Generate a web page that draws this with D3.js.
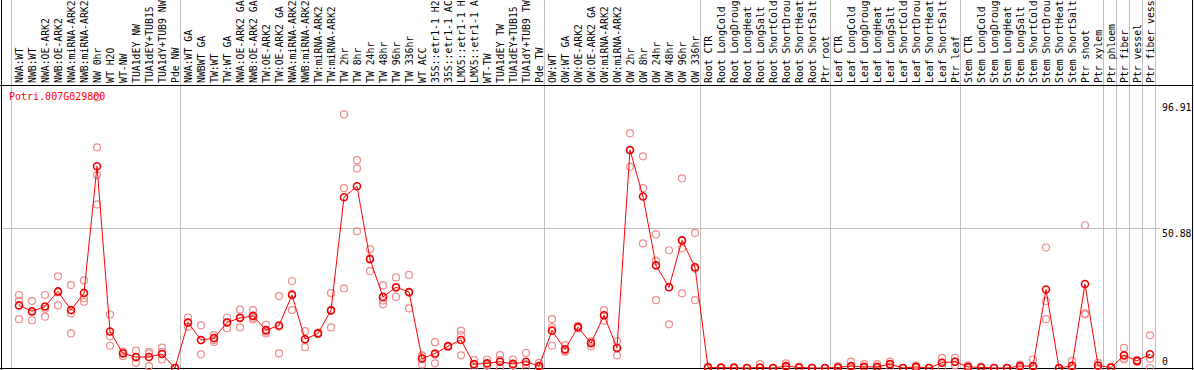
<!DOCTYPE html>
<html>
<head>
<meta charset="utf-8">
<script src="https://cdnjs.cloudflare.com/ajax/libs/d3/7.8.5/d3.min.js"></script>
<style>
  body { margin: 0; background: #fff; }
  text { font-family: "DejaVu Sans Mono", monospace; font-size: 10px; }
</style>
</head>
<body>
<div id="chart"></div>
<script>
var gene = "Potri.007G029800"

var samples = [
  "NWA:WT", "NWB:WT", "NWA:OE-ARK2", "NWB:OE-ARK2", "NWA:miRNA-ARK2", "NWB:miRNA-ARK2",
  "NW 0hr", "WT H2O", "WT-NW", "TUA1dEY NW", "TUA1dEY+TUB15 NW", "TUA1dY+TUB9 NW", "Pde NW",
  "NWA:WT GA", "NWBWT GA", "TW:WT", "TW:WT GA", "NWA:OE-ARK2 GA", "NWB:OE-ARK2 GA",
  "TW:OE-ARK2", "TW:OE-ARK2 GA", "NWA:miRNA-ARK2 GA", "NWB:miRNA-ARK2 GA", "TW:miRNA-ARK2",
  "TW:miRNA-ARK2 GA", "TW 2hr", "TW 8hr", "TW 24hr", "TW 48hr", "TW 96hr", "TW 336hr",
  "WT ACC", "35S::etr1-1 H2O", "35S::etr1-1 ACC", "LMX5::etr1-1 H2O", "LMX5::etr1-1 ACC",
  "WT-TW", "TUA1dEY TW", "TUA1dEY+TUB15 TW", "TUA1dY+TUB9 TW", "Pde TW",
  "OW:WT", "OW:WT GA", "OW:OE-ARK2", "OW:OE-ARK2 GA", "OW:miRNA-ARK2", "OW:miRNA-ARK2 GA",
  "OW 2hr", "OW 8hr", "OW 24hr", "OW 48hr", "OW 96hr", "OW 336hr",
  "Root CTR", "Root LongCold", "Root LongDrought", "Root LongHeat", "Root LongSalt",
  "Root ShortCold", "Root ShortDrought", "Root ShortHeat", "Root ShortSalt", "Ptr root",
  "Leaf CTR", "Leaf LongCold", "Leaf LongDrought", "Leaf LongHeat", "Leaf LongSalt",
  "Leaf ShortCold", "Leaf ShortDrought", "Leaf ShortHeat", "Leaf ShortSalt", "Ptr leaf",
  "Stem CTR", "Stem LongCold", "Stem LongDrought", "Stem LongHeat", "Stem LongSalt",
  "Stem ShortCold", "Stem ShortDrought", "Stem ShortHeat", "Stem ShortSalt", "Ptr shoot",
  "Ptr xylem", "Ptr phloem", "Ptr fiber", "Ptr vessel", "Ptr fiber vessel"
]

// mean expression per sample
var means = [
  22.8, 20.7, 22.4, 27.9, 21.1, 27.3, 73.5, 13.3, 5.3, 4.0, 4.0, 5.1, 0,
  16.6, 10.2, 10.9, 16.6, 18.2, 19.0, 13.8, 15.5, 26.6, 10.5, 12.6, 21.0, 62.2, 66.2,
  39.6, 25.9, 29.4, 27.7, 3.4, 5.3, 7.9, 10.2, 1.4, 1.7, 2.3, 1.5, 2.3, 0.7,
  13.6, 6.8, 14.9, 9.0, 19.2, 7.3, 79.4, 62.5, 37.4, 29.4, 46.5, 36.7,
  0.2, 0.1, 0.1, 0, 0.2, 0, 0.7, 0.2, 0, 0,
  0.2, 0.7, 0.4, 0.4, 1.4, 0, 0.4, 0, 1.9, 2.3,
  0.4, 0.2, 0, 0, 0.7, 0.7, 28.6, 0, 0.8, 30.6, 0.9,
  0.2, 4.6, 2.6, 5.0
]

// individual replicates per sample
var replicates = [
  [26.6, 24.5, 17.8], [24.4, 20.3, 17.4], [26.6, 21.6, 18.7], [33.4, 27.5, 22.8],
  [30.2, 19.9, 12.6], [31.9, 25.4, 24.1], [98.6, 80.4, 70.3, 59.6], [19.5, 11.6, 8.1],
  [6.0, 5.6, 4.3], [6.3, 3.8, 1.9], [5.9, 5.3, 0.7], [7.4, 5.9, 3.1], [0, 0, 0],
  [18.4, 16.5, 15.0], [15.5, 10.1, 5.0], [12.0, 10.2, 9.5], [18.3, 16.6, 14.5],
  [21.3, 18.5, 14.8], [21.1, 18.3, 17.7], [15.7, 13.2, 12.6], [26.2, 15.0, 5.3],
  [31.7, 27.0, 21.1], [13.4, 10.5, 7.6], [12.9, 12.6, 12.3], [27.3, 21.0, 14.8],
  [92.4, 65.5, 29.0], [75.7, 72.7, 49.8], [43.3, 40.0, 35.3], [30.1, 24.6, 23.2],
  [33.0, 29.2, 25.9], [33.9, 27.4, 21.7], [4.6, 4.2, 1.3], [9.4, 4.9, 1.7],
  [8.2, 7.9, 7.6], [13.6, 12.0, 4.6], [2.9, 1.2, 0], [3.1, 1.2, 0.8], [4.7, 2.9, 0],
  [3.1, 1.2, 0.8], [5.5, 1.4, 0], [1.9, 0.2, 0],
  [17.8, 14.8, 8.1], [8.3, 6.2, 5.9], [15.4, 14.9, 14.4], [9.7, 9.4, 7.9],
  [21.1, 19.2, 17.2], [9.8, 7.4, 4.6], [85.5, 79.3, 73.3], [77.1, 65.5, 45.4],
  [48.7, 39.0, 24.7], [42.9, 29.4, 15.9], [69.1, 43.6, 27.2], [49.2, 36.2, 24.7],
  [0.5, 0.1, 0], [0.3, 0, 0], [0.3, 0, 0], [0, 0, 0], [1.4, 0, 0],
  [0, 0, 0], [1.7, 0.3, 0], [0.5, 0.1, 0], [0, 0, 0], [0, 0, 0],
  [0.7, 0, 0], [2.3, 0, 0], [1.4, 0, 0], [1.4, 0, 0], [2.3, 1.4, 0.5],
  [0, 0, 0], [1.0, 0.2, 0], [0, 0, 0], [3.7, 1.9, 0.1], [3.7, 2.3, 1.0],
  [1.0, 0.2, 0], [0.5, 0, 0], [0, 0, 0], [0, 0, 0], [1.2, 0.8, 0],
  [3.1, 0, 0], [43.9, 24.4, 17.8], [0, 0, 0], [2.6, 0, 0], [52.0, 19.9, 19.5], [1.9, 0.8, 0],
  [0.5, 0, 0], [7.3, 3.4, 3.1], [3.0, 2.6, 2.2], [11.9, 3.4, 0]
]

// sample index where each tissue group starts (last = end)
var groupBreaks = [0, 13, 41, 53, 63, 73, 84, 85, 86, 87, 88]
var yTicks = [96.91, 50.88, 0]

var width = 1194
var height = 370

var svg = d3.select("#chart")
  .append("svg")
    .attr("width", width)
    .attr("height", height)

// one band per sample
var x = d3.scaleBand()
  .domain(d3.range(samples.length))
  .range([11, 11 + samples.length * 13])

var y = d3.scaleLinear()
  .domain([0, 96.91])
  .range([368, 102])

var cx = function(i) { return x(i) + 8 }

// group separators
svg.selectAll("line.sep")
  .data(groupBreaks)
  .enter()
  .append("line")
    .attr("x1", function(d) { return d * 13 + 11.5 })
    .attr("x2", function(d) { return d * 13 + 11.5 })
    .attr("y1", 0)
    .attr("y2", 368)
    .attr("stroke", "#c0c0c0")

// middle grid line
svg.append("line")
  .attr("x1", 1)
  .attr("x2", 1160)
  .attr("y1", Math.round(y(50.88)) + 0.5)
  .attr("y2", Math.round(y(50.88)) + 0.5)
  .attr("stroke", "#c0c0c0")

// frame
svg.append("line").attr("x1", 0).attr("x2", width).attr("y1", 85.5).attr("y2", 85.5).attr("stroke", "#000")
svg.append("line").attr("x1", 1.5).attr("x2", 1.5).attr("y1", 0).attr("y2", height).attr("stroke", "#000")
svg.append("line").attr("x1", 1192.5).attr("x2", 1192.5).attr("y1", 0).attr("y2", height).attr("stroke", "#000")
svg.append("line").attr("x1", 0).attr("x2", width).attr("y1", 368.5).attr("y2", 368.5).attr("stroke", "#000")

// sample labels, vertical; the header only has room for 14 characters
svg.selectAll("text.sample")
  .data(samples)
  .enter()
  .append("text")
    .attr("transform", function(d, i) { return "translate(" + (cx(i) + 3.5) + ",83) rotate(-90)" })
    .attr("fill", "#000")
    .style("font-size", "9.8px")
    .text(function(d) { return d.slice(0, 14) })

// value labels on the right
svg.selectAll("text.tick")
  .data(yTicks)
  .enter()
  .append("text")
    .attr("x", 1162)
    .attr("y", function(d) { return Math.min(y(d) + 8.5, 365) })
    .attr("fill", "#000")
    .style("font-size", "9.8px")
    .text(function(d) { return d })

// replicate points
var reps = []
replicates.forEach(function(r, i) {
  r.forEach(function(v) { reps.push({ i: i, v: v }) })
})

svg.selectAll("circle.rep")
  .data(reps)
  .enter()
  .append("circle")
    .attr("cx", function(d) { return cx(d.i) })
    .attr("cy", function(d) { return y(d.v) })
    .attr("r", 3.5)
    .attr("fill", "none")
    .attr("stroke", "#f08c8c")
    .attr("stroke-width", 1.2)

// mean line
var line = d3.line()
  .x(function(d, i) { return cx(i) })
  .y(function(d) { return y(d) })

svg.append("path")
  .datum(means)
  .attr("d", line)
  .attr("fill", "none")
  .attr("stroke", "#ff0000")
  .attr("stroke-width", 1)

svg.selectAll("circle.mean")
  .data(means)
  .enter()
  .append("circle")
    .attr("cx", function(d, i) { return cx(i) })
    .attr("cy", function(d) { return y(d) })
    .attr("r", 3.5)
    .attr("fill", "none")
    .attr("stroke", "#ee0000")
    .attr("stroke-width", 1.6)

// gene name
svg.append("text")
  .attr("x", 9)
  .attr("y", 100)
  .attr("fill", "#ff0000")
  .text(gene)
</script>
</body>
</html>
